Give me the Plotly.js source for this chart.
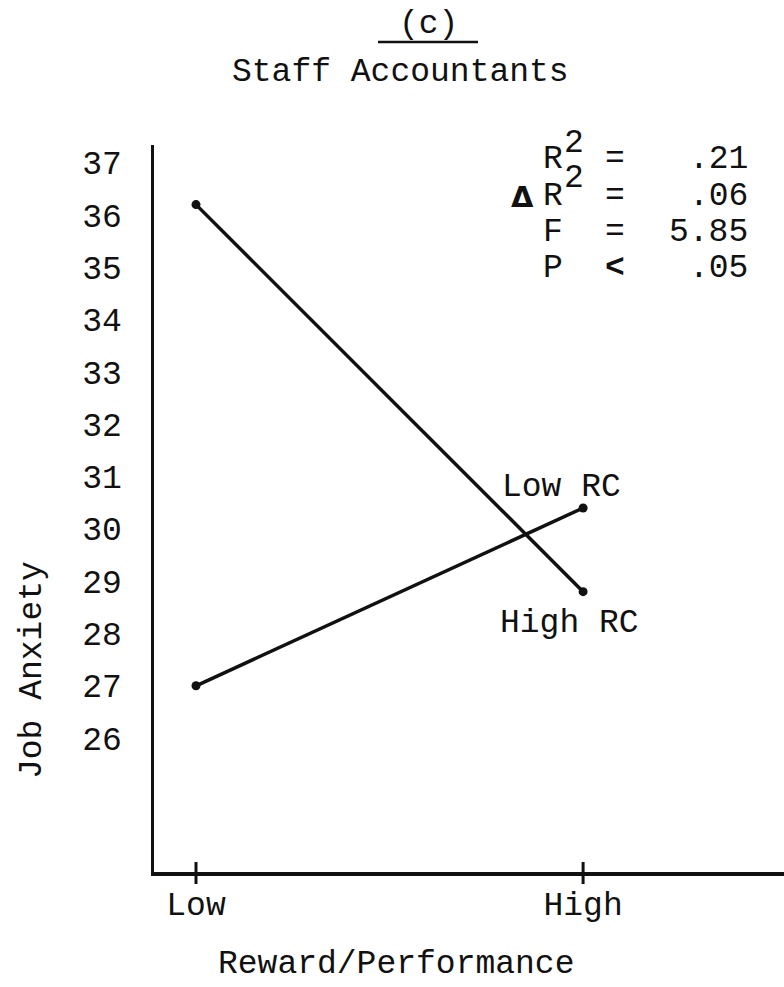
<!DOCTYPE html>
<html>
<head>
<meta charset="utf-8">
<script src="https://cdn.plot.ly/plotly-3.0.1.min.js"></script>
<style>
  html, body { margin: 0; padding: 0; background: #ffffff; }
  #chart { width: 784px; height: 987px; }
</style>
</head>
<body>
<div id="chart"></div>
<script>
// Reward/performance levels on the x axis
const levels = ["Low", "High"];

// Mean job anxiety for each role-conflict group
const lowRC = [27.0, 30.4];
const highRC = [36.2, 28.8];
const seriesNames = ["Low RC", "High RC"];

// Y axis tick values
const yTicks = [26, 27, 28, 29, 30, 31, 32, 33, 34, 35, 36, 37];

// Regression statistics block
const statLabels = ["R", "R", "F", "P"];
const statOps = ["=", "=", "=", "<"];
const statValues = [".21", ".06", "5.85", ".05"];

const FONT = "Liberation Mono, Courier New, monospace";
const INK = "#111111";
const FS = 33;

// plot-area geometry in pixels
const W = 784, H = 987;
const L = 154, R = 0, T = 145, B = 115;
const pw = W - L - R, ph = H - T - B;
const px = x => (x - L) / pw;          // pixel x -> paper x
const py = y => (H - B - y) / ph;      // pixel y -> paper y

const lineStyle = { color: INK, width: 3.5 };
const markerStyle = { color: INK, size: 9 };

const traces = [
  { x: levels, y: lowRC, name: seriesNames[0], type: "scatter", mode: "lines+markers",
    line: lineStyle, marker: markerStyle, hoverinfo: "skip" },
  { x: levels, y: highRC, name: seriesNames[1], type: "scatter", mode: "lines+markers",
    line: lineStyle, marker: markerStyle, hoverinfo: "skip" }
];

const annotations = [];
const txt = (text, x, y, opts) => Object.assign({
  text: text, x: x, y: y, xref: "paper", yref: "paper",
  showarrow: false, font: { family: FONT, size: FS, color: INK },
  xanchor: "center", yanchor: "middle"
}, opts || {});

// panel heading
annotations.push(txt("(c)", px(428), py(25)));
annotations.push(txt("Staff Accountants", px(400), py(72)));

// axis titles
annotations.push(txt("Reward/Performance", px(396), py(964)));
annotations.push(txt("Job Anxiety", px(32), py(670), { textangle: -90 }));

// series labels next to the High end points
annotations.push(txt(seriesNames[0], 0.943, 30.8, { xref: "x", yref: "y" }));
annotations.push(txt(seriesNames[1], 0.965, 28.2, { xref: "x", yref: "y" }));

// statistics block
const rowY = [160, 196, 232, 268];
statLabels.forEach((lab, i) => {
  annotations.push(txt(lab, px(541), py(rowY[i]), { xanchor: "left" }));
  const op = statOps[i] === "<" ? "<b>&lt;</b>" : statOps[i];
  annotations.push(txt(op, px(615), py(rowY[i])));
  annotations.push(txt(statValues[i], px(750), py(rowY[i]), { xanchor: "right" }));
});
// squared markers on the two R rows
[0, 1].forEach(i => {
  annotations.push(txt("2", px(562), py(rowY[i] - 17), { xanchor: "left" }));
});
annotations.push(txt("<b>\u0394</b>", px(522), py(197), { font: { family: "DejaVu Sans", size: 29, color: INK } }));

const shapes = [
  // underline of the panel letter
  { type: "line", xref: "paper", yref: "paper", x0: px(378), x1: px(478), y0: py(42), y1: py(42),
    line: { color: INK, width: 2.5 } }
];
// tick marks crossing the x axis at each level
levels.forEach(lv => {
  shapes.push({ type: "line", xref: "x", yref: "paper", x0: lv, x1: lv, y0: -12 / ph, y1: 10 / ph,
    line: { color: INK, width: 3 } });
});

const layout = {
  width: W, height: H,
  margin: { l: L, r: R, t: T, b: B, pad: 0 },
  paper_bgcolor: "#ffffff", plot_bgcolor: "#ffffff",
  showlegend: false,
  font: { family: FONT, size: FS, color: INK },
  xaxis: {
    type: "category", categoryorder: "array", categoryarray: levels,
    range: [-0.1085, 1.519],
    showline: true, linecolor: INK, linewidth: 3.5,
    showgrid: false, zeroline: false,
    ticks: "", ticklabelstandoff: 0,
    tickfont: { family: FONT, size: FS, color: INK },
    fixedrange: true
  },
  yaxis: {
    range: [23.44, 37.34],
    tickvals: yTicks,
    showline: true, linecolor: INK, linewidth: 3.5,
    showgrid: false, zeroline: false,
    ticks: "", ticklabelstandoff: 22,
    tickfont: { family: FONT, size: FS, color: INK },
    fixedrange: true
  },
  annotations: annotations,
  shapes: shapes
};

Plotly.newPlot("chart", traces, layout, { displayModeBar: false, staticPlot: true });
</script>
</body>
</html>
